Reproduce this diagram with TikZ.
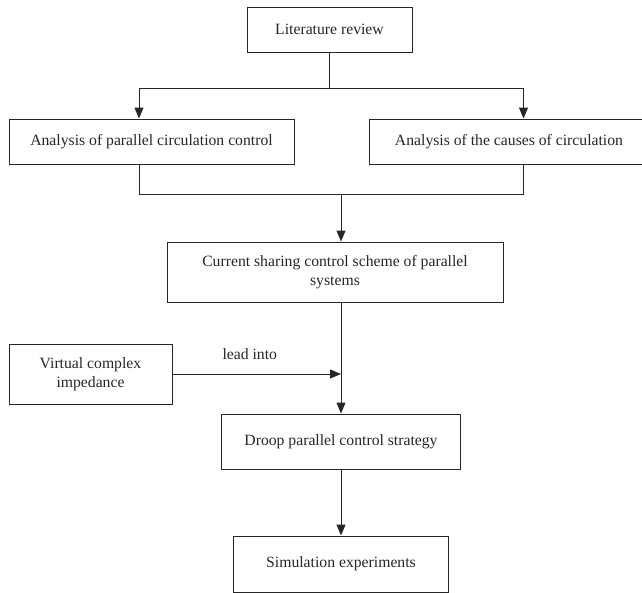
\documentclass[tikz,border=0pt]{standalone}
\usepackage{fontspec}
\setmainfont{Liberation Serif}
\usetikzlibrary{positioning,arrows.meta}

\begin{document}
\begin{tikzpicture}[
    font=\fontsize{15.7}{19}\selectfont,
    every node/.style={text=black!85},
    box/.style={draw=black!85, line width=1pt, inner sep=0pt, align=center},
    line/.style={draw=black!85, line width=1pt},
    arrow/.style={line, -{Triangle[length=11pt,width=9pt]}},
    ]
    \useasboundingbox (0,0) rectangle (642pt,-592pt);
    \node[box, minimum width=165pt, minimum height=45pt] (lit) at (329.5pt,-29.5pt)
    {Literature review};
    \node[below=66pt of lit, xshift=-178pt, box, minimum width=285pt,
    minimum height=45pt] (parctrl) {Analysis of parallel circulation control};
    \node[right=74pt of parctrl, box, minimum width=280pt, minimum height=45pt]
    (causes) {Analysis of the causes of circulation};
    \node[below=189pt of lit, xshift=5.5pt, box, minimum width=336pt,
    minimum height=60pt] (sharing)
    {Current sharing control scheme of parallel\\systems};
    \node[below=41pt of sharing, xshift=-244.5pt, box, minimum width=163pt,
    minimum height=60pt] (virtual) {Virtual complex\\impedance};
    \node[below=111pt of sharing, xshift=6pt, box, minimum width=239pt,
    minimum height=55pt] (droop) {Droop parallel control strategy};
    \node[below=66pt of droop, box, minimum width=215pt,
    minimum height=56pt] (sim) {Simulation experiments};

    \draw[line] (lit.south) -- ++(0,-36pt) coordinate (split);
    \draw[arrow] (split) -| ([xshift=-12.5pt]parctrl.north);
    \draw[arrow] (split) -| ([xshift=14.5pt]causes.north);
    \draw[line] ([xshift=-12.5pt]parctrl.south) -- ++(0,-30pt)
    -| ([xshift=14.5pt]causes.south);
    \draw[arrow] ([xshift=6pt,yshift=48pt]sharing.north)
    -- ([xshift=6pt]sharing.north);
    \coordinate (axis) at ([xshift=6pt]sharing.south);
    \draw[arrow] (axis) -- (axis |- droop.north);
    \draw[arrow] (virtual) -- (virtual -| axis)
    node[midway, above=13.5pt, xshift=-7pt, inner sep=0pt] (leadinto) {lead into};
    \draw[arrow] (droop) -- (sim);
\end{tikzpicture}
\end{document}
